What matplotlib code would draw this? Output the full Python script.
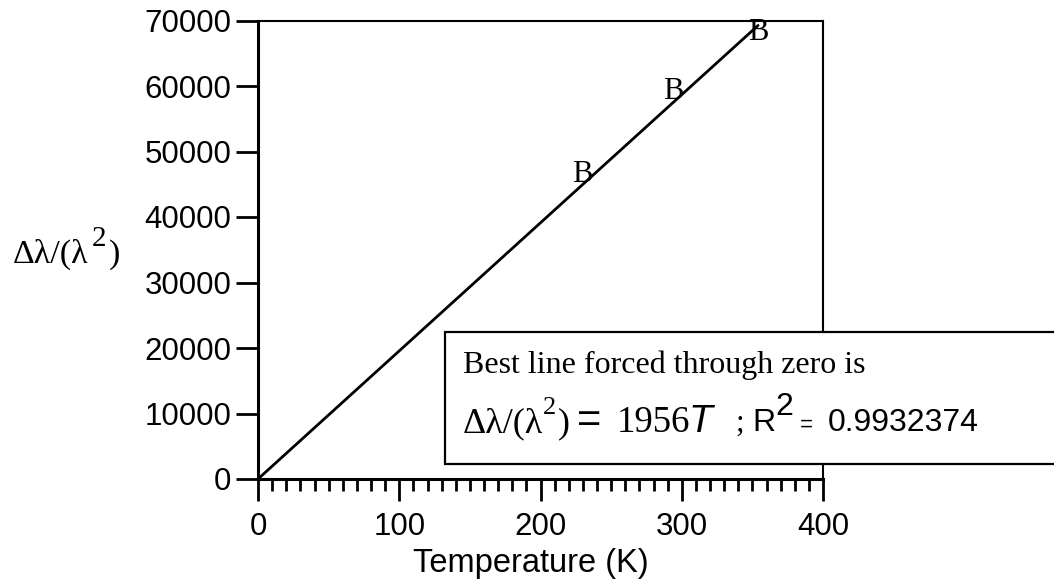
import matplotlib.pyplot as plt
from matplotlib.patches import Rectangle
from matplotlib.ticker import MultipleLocator

# measured points (plotted as the letter "B")
temps = [229.4, 293.8, 354.0]
shifts = [46500, 59200, 68200]

# best line through zero, slope 1956
fit_t = [0, 354]
fit_y = [0, 69240]

xticks = [0, 100, 200, 300, 400]
yticks = [0, 10000, 20000, 30000, 40000, 50000, 60000, 70000]

W, H = 1054, 582
SANS = "Liberation Sans"
SERIF = "Liberation Serif"


def fx(x):
    return x / W


def fy(y):
    return 1 - y / H


fig = plt.figure(figsize=(W / 100, H / 100), dpi=100)
ax = fig.add_axes([fx(258), fy(479), fx(823) - fx(258), fy(20.5) - fy(479)])

ax.plot(fit_t, fit_y, color="black", lw=2, solid_capstyle="round")
for t, s in zip(temps, shifts):
    ax.text(t, s, "B", ha="center", va="center", fontsize=22, family=SERIF)

ax.set_xlim(0, 400)
ax.set_ylim(0, 70000)
ax.set_xticks(xticks)
ax.set_yticks(yticks)
ax.xaxis.set_minor_locator(MultipleLocator(10))
ax.tick_params(axis="both", which="major", direction="out", length=16, width=2,
               labelsize=22.5, pad=3)
ax.tick_params(axis="x", which="major", pad=8)
ax.tick_params(axis="x", which="minor", direction="out", length=8.5, width=2)
for lab in ax.get_xticklabels() + ax.get_yticklabels():
    lab.set_family(SANS)

ax.spines["left"].set_linewidth(2.2)
ax.spines["bottom"].set_linewidth(2.2)
ax.spines["top"].set_linewidth(1.5)
ax.spines["right"].set_linewidth(1.5)

# x axis title
fig.text(fx(531), fy(572), "Temperature (K)", ha="center", va="baseline",
         fontsize=23.5, family=SANS)

# y axis title, built from pieces (serif with a raised 2)
ylab_runs = [
    (13, 263, "Δλ/(λ", 24.5),
    (92, 246, "2", 21),
    (109, 263, ")", 24.5),
]
for x, y, s, size in ylab_runs:
    fig.text(fx(x), fy(y), s, ha="left", va="baseline", fontsize=size, family=SERIF)

# annotation box
box = Rectangle((fx(445), fy(464)), fx(1070) - fx(445), fy(332) - fy(464),
                transform=fig.transFigure, facecolor="white", edgecolor="black",
                lw=1.6, zorder=5, clip_on=False)
fig.patches.append(box)

fig.text(fx(463), fy(373), "Best line forced through zero is", ha="left",
         va="baseline", fontsize=23, family=SERIF, zorder=6)

runs = [
    (463, 432, "Δλ/(λ", {"fontsize": 26, "family": SERIF}),
    (543, 414, "2", {"fontsize": 19, "family": SERIF}),
    (558, 432, ")", {"fontsize": 26, "family": SERIF}),
    (577, 432, "=", {"fontsize": 30, "family": SANS}),
    (617, 432, "1956", {"fontsize": 26.5, "family": SERIF}),
    (689, 432, "T", {"fontsize": 28, "family": SANS, "style": "italic"}),
    (735, 431, ";", {"fontsize": 22, "family": SERIF}),
    (752, 431, "R", {"fontsize": 23, "family": SANS}),
    (775, 415, "2", {"fontsize": 23, "family": SANS}),
    (800, 431, "=", {"fontsize": 16, "family": SANS}),
    (828, 431, "0.9932374", {"fontsize": 23, "family": SANS}),
]
for x, y, s, kw in runs:
    fig.text(fx(x), fy(y), s, ha="left", va="baseline", zorder=6, **kw)

fig.savefig("out.png", dpi=100)
